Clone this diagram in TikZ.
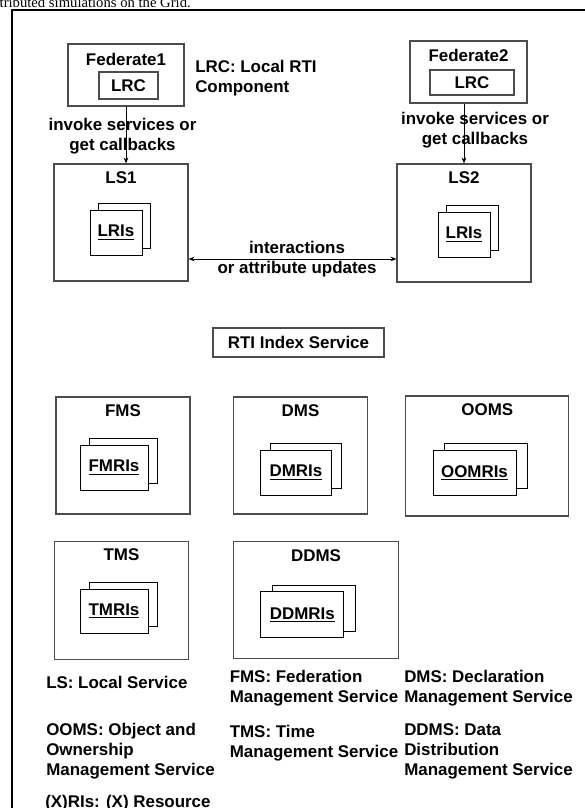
\documentclass[tikz,border=0pt]{standalone}
\usepackage{fontspec}
\setmainfont{Liberation Sans}
\newfontfamily\capfont{Liberation Serif}
\usetikzlibrary{arrows.meta}

\begin{document}
\begin{tikzpicture}[x=0.75pt,y=-0.75pt,>={Stealth[length=4.5pt,width=3.5pt]},
  font=\fontsize{12.7}{15}\selectfont\bfseries,
  wh/.style 2 args={minimum width=#1*0.75pt,minimum height=#2*0.75pt},
  svcbox/.style={draw=black!70,line width=0.8pt,inner sep=0pt},
  ribox/.style={draw=black,line width=0.7pt,fill=white,inner sep=0pt},
  txt/.style={inner sep=0pt,align=left,anchor=west}]
  \useasboundingbox (0,0) rectangle (585,808);
  \clip (0,0) rectangle (585,808);
  \node[anchor=base east,inner sep=0pt,font=\capfont\fontsize{11}{13}\selectfont] (cap) at (191,7) {distributed simulations on the Grid.};
  \draw[line width=1.5pt] (12,10) rectangle (620,840);
  \node[svcbox,wh={116}{62}] (fed1) at (126,75) {};
  \node (fed1t) at (126,59) {Federate1};
  \node[svcbox,wh={59}{27}] (lrc1) at (128.5,85.5) {LRC};
  \node[svcbox,wh={117}{62}] (fed2) at (468.5,72) {};
  \node (fed2t) at (468.5,55) {Federate2};
  \node[svcbox,wh={84}{25}] (lrc2) at (472,82.5) {LRC};
  \node[txt] (lrcl) at (195,78.5) {LRC: Local RTI\\Component};
  \foreach \n/\x/\y/\w/\h/\t in {ls1/121/222.5/134/117/LS1,ls2/464/223/134/118/LS2,
      fms/123/455.5/134/117/FMS,dms/300.5/455.5/134/117/DMS,ooms/487.3/456/163/120/OOMS,
      tms/121.5/600.5/134/118/TMS,ddms/316/600.3/165/117/DDMS} {
    \node[svcbox,wh={\w}{\h}] (\n) at (\x,\y) {};
    \node (\n t) at (\x,\y-\h/2+13.5) {\t};
  }
  \foreach \n/\x/\y/\w/\h/\dx/\t in {lri1/116/232.5/52/45/8/LRIs,lri2/464/234.5/52/45/8/LRIs,
      fmri/114/467.5/68/45/9/FMRIs,dmri/296/472.5/71/45/10/DMRIs,oomri/474.5/472.5/83/45/11/OOMRIs,
      tmri/114/611/68/44/9/TMRIs,ddmri/302.3/614.8/83/46/12/DDMRIs} {
    \node[ribox,wh={\w}{\h}] (\n b) at (\x+\dx,\y-6.5) {};
    \node[ribox,wh={\w}{\h}] (\n) at (\x,\y) {\underline{\t}};
  }
  \node[align=center] (inv1) at (122.5,136) {invoke services or\\get callbacks};
  \node[align=center] (inv2) at (475,130.5) {invoke services or\\get callbacks};
  \draw[->,line width=0.7pt] (fed1.south) -- (fed1.south |- ls1.north);
  \draw[->,line width=0.7pt] (fed2.south -| ls2.north) -- (ls2.north);
  \node[align=center] (iact) at (297,259) {interactions\\or attribute updates};
  \draw[<->,line width=0.7pt] (ls1.east |- iact) -- (ls2.west |- iact);
  \node[svcbox,wh={171}{29}] (rti) at (298.5,342.5) {RTI Index Service};
  \node[txt] (lsl) at (46,682) {LS: Local Service};
  \node[txt] (fmsl) at (229.5,688.5) {FMS: Federation\\Management Service};
  \node[txt] (dmsl) at (404,688.5) {DMS: Declaration\\Management Service};
  \node[txt] (oomsl) at (46,751) {OOMS: Object and\\Ownership\\Management Service};
  \node[txt] (tmsl) at (229.5,743.5) {TMS: Time\\Management Service};
  \node[txt] (ddmsl) at (404,751) {DDMS: Data\\Distribution\\Management Service};
  \node[txt] (xril) at (45,803) {(X)RIs: (X) Resource};
\end{tikzpicture}
\end{document}
